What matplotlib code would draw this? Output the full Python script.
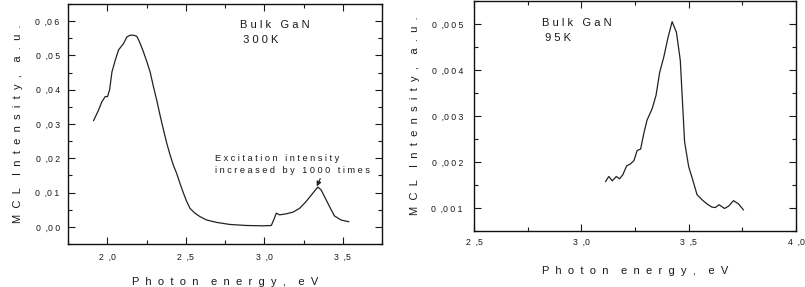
import matplotlib
matplotlib.use("Agg")
import matplotlib.pyplot as plt
from matplotlib.ticker import MultipleLocator, FuncFormatter

# ---- data: 300 K spectrum (left) ----
e300 = [1.913, 1.945, 1.966, 1.987, 2.002, 2.015, 2.030, 2.051, 2.072, 2.104, 2.125, 2.146,
        2.167, 2.188, 2.205, 2.226, 2.252, 2.273, 2.294, 2.315, 2.336, 2.358, 2.379, 2.400,
        2.421, 2.442, 2.463, 2.484, 2.506, 2.527, 2.558, 2.590, 2.633, 2.696, 2.781, 2.886,
        2.992, 3.045, 3.060, 3.077, 3.098, 3.140, 3.183, 3.225, 3.267, 3.309, 3.341, 3.362,
        3.394, 3.426, 3.447, 3.489, 3.538]
i300 = [0.0310, 0.0341, 0.0365, 0.0380, 0.0380, 0.0400, 0.0452, 0.0486, 0.0516, 0.0535, 0.0554, 0.0559,
        0.0559, 0.0556, 0.0540, 0.0516, 0.0482, 0.0452, 0.0409, 0.0370, 0.0326, 0.0283, 0.0244, 0.0210,
        0.0180, 0.0156, 0.0127, 0.0100, 0.0074, 0.0054, 0.0040, 0.0030, 0.0020, 0.0013, 0.0007, 0.0004,
        0.0003, 0.0004, 0.0020, 0.0040, 0.0035, 0.0038, 0.0043, 0.0054, 0.0074, 0.0098, 0.0116, 0.0108,
        0.0079, 0.0050, 0.0032, 0.0020, 0.0015]

# ---- data: 95 K spectrum (right) ----
e95 = [3.113, 3.128, 3.144, 3.163, 3.178, 3.193, 3.211, 3.229, 3.245, 3.260, 3.276, 3.291,
       3.306, 3.330, 3.348, 3.365, 3.384, 3.404, 3.423, 3.443, 3.461, 3.481, 3.500, 3.519,
       3.539, 3.562, 3.585, 3.608, 3.624, 3.642, 3.667, 3.686, 3.709, 3.732, 3.755]
i95 = [0.001577, 0.001685, 0.001591, 0.001685, 0.001634, 0.00172, 0.001915, 0.00196, 0.00203,
       0.00225, 0.00228, 0.00262, 0.00291, 0.00316, 0.00345, 0.00395, 0.00428, 0.00471, 0.00505,
       0.00482, 0.00421, 0.00244, 0.00190, 0.00161, 0.00129, 0.00118, 0.00109, 0.00102, 0.00101,
       0.00107, 0.00099, 0.00104, 0.00116, 0.00109, 0.00096]

xlabel_txt = "Photon energy, eV"
ylabel_txt = "MCL Intensity, a.u."
title300 = ["Bulk GaN", "300K"]
title95 = ["Bulk GaN", "95K"]
note_txt = ["Excitation intensity", "increased by 1000 times"]
peak_x, peak_y = 3.335, 0.0118


def sp(s, n=1, w=None):
    """Letter-spaced rendering of a string (wide tracking as in the original)."""
    if w is None:
        w = n + 1
    return (' ' * w).join((' ' * n).join(word) for word in s.split(' '))


plt.rcParams['font.family'] = ['Liberation Sans', 'DejaVu Sans']
fig = plt.figure(figsize=(8.05, 2.87), dpi=100)
W, H = 805, 287


def pos(l, t, r, b):
    return [l / W, 1 - b / H, (r - l) / W, (b - t) / H]


ax1 = fig.add_axes(pos(68, 4, 382, 244))
ax2 = fig.add_axes(pos(474, 1, 796, 231))

lc = '#222222'
tc = '#1a1a1a'


def comma(dec):
    def f(v, p):
        s = f"{v:.{dec}f}"
        a, b = s.split('.')
        return ' '.join(a) + '  ,' + ' '.join(b)
    return FuncFormatter(f)


for ax in (ax1, ax2):
    ax.tick_params(which='both', direction='in', top=True, right=True, width=0.8,
                   labelsize=6.3, colors=tc)
    ax.tick_params(which='major', length=5)
    ax.tick_params(which='minor', length=3)
    for s in ax.spines.values():
        s.set_linewidth(1.0)
        s.set_color('#111111')

# left panel
ax1.plot(e300, i300, color=lc, lw=0.9)
ax1.set_xlim(1.75, 3.75)
ax1.set_ylim(-0.005, 0.065)
ax1.xaxis.set_major_locator(MultipleLocator(0.5))
ax1.xaxis.set_minor_locator(MultipleLocator(0.25))
ax1.yaxis.set_major_locator(MultipleLocator(0.01))
ax1.yaxis.set_minor_locator(MultipleLocator(0.005))
ax1.xaxis.set_major_formatter(comma(1))
ax1.yaxis.set_major_formatter(comma(2))
ax1.tick_params(axis='y', which='major', pad=6)
ax1.tick_params(axis='x', which='major', pad=6)
ax1.set_xlabel(sp(xlabel_txt, 2, 4), fontsize=8, labelpad=11, color=tc)
ax1.set_ylabel(sp(ylabel_txt, 2, 4), fontsize=8, labelpad=9, color=tc)
ax1.text(2.845, 0.0568, sp(title300[0], 1, 3) + "\n " + sp(title300[1], 1),
         fontsize=8, va='center', ha='left', color=tc, linespacing=1.6)
ax1.annotate(sp(note_txt[0], 1, 3) + "\n" + sp(note_txt[1], 1, 3),
             xy=(peak_x, peak_y), xytext=(2.687, 0.0182), fontsize=6.6,
             ha='left', va='center', color=tc, linespacing=1.3,
             arrowprops=dict(arrowstyle='-|>', color='#222222', lw=0.8,
                             mutation_scale=7, shrinkA=1, shrinkB=0,
                             relpos=(0.69, 0.0)))

# right panel
ax2.plot(e95, i95, color=lc, lw=0.9)
ax2.set_xlim(2.5, 4.0)
ax2.set_ylim(0.0005, 0.0055)
ax2.xaxis.set_major_locator(MultipleLocator(0.5))
ax2.xaxis.set_minor_locator(MultipleLocator(0.25))
ax2.yaxis.set_major_locator(MultipleLocator(0.001))
ax2.yaxis.set_minor_locator(MultipleLocator(0.0005))
ax2.xaxis.set_major_formatter(comma(1))
ax2.yaxis.set_major_formatter(comma(3))
ax2.tick_params(axis='y', which='major', pad=8)
ax2.tick_params(axis='x', which='major', pad=5)
ax2.set_xlabel(sp(xlabel_txt, 2, 4), fontsize=8, labelpad=14, color=tc)
ax2.set_ylabel(sp(ylabel_txt, 2, 4), fontsize=8, labelpad=8, color=tc)
ax2.text(2.815, 0.00485, sp(title95[0], 1, 3) + "\n " + sp(title95[1], 1),
         fontsize=8, va='center', ha='left', color=tc, linespacing=1.6)

fig.savefig("out.png", dpi=100)
